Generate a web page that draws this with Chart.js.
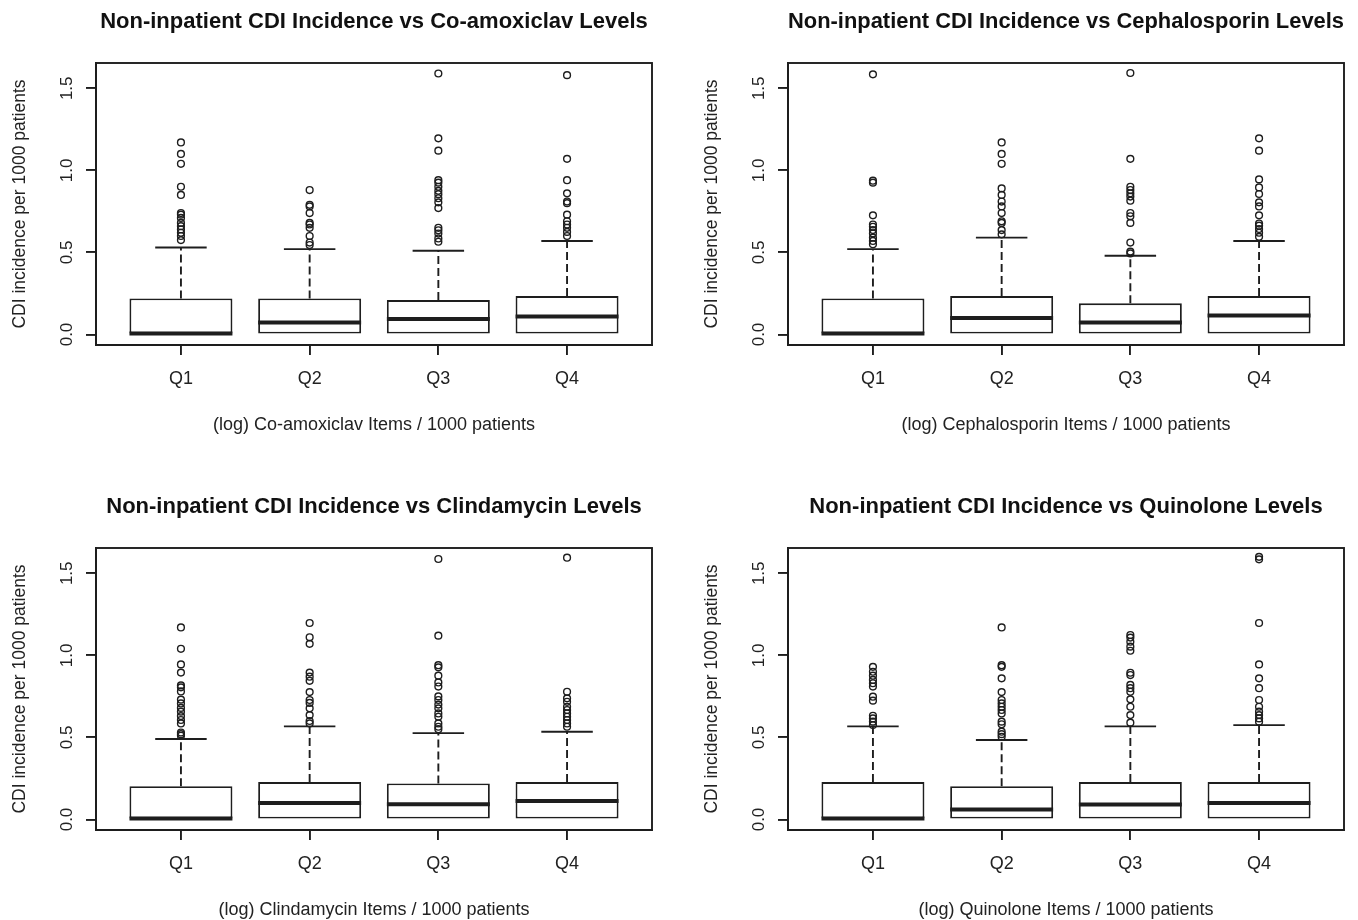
<!DOCTYPE html>
<html>
<head>
<meta charset="utf-8">
<script src="https://cdn.jsdelivr.net/npm/chart.js@4.4.1/dist/chart.umd.min.js"></script>
<style>
  body { margin: 0; background: #fff; width: 1358px; height: 920px; position: relative; overflow: hidden; }
  .panel { position: absolute; width: 666px; height: 460px; }
</style>
</head>
<body>
<div class="panel" style="left:0;top:0"><canvas id="coamox"></canvas></div>
<div class="panel" style="left:692px;top:0"><canvas id="ceph"></canvas></div>
<div class="panel" style="left:0;top:485px"><canvas id="clinda"></canvas></div>
<div class="panel" style="left:692px;top:485px"><canvas id="quino"></canvas></div>
<script>
// categories and axis ticks
const quartiles = ['Q1', 'Q2', 'Q3', 'Q4'];
const yTicks = [0, 0.5, 1.0, 1.5];
const yLabel = 'CDI incidence per 1000 patients';

// Co-amoxiclav
const coamoxLower = [0, 0, 0, 0];
const coamoxUpper = [0.22, 0.22, 0.21, 0.234];
const coamoxMedian = [0, 0.073, 0.095, 0.11];
const coamoxWhisker = [0.53, 0.52, 0.51, 0.57];
const coamoxOutliers = [
    [1.17, 1.10, 1.04, 0.90, 0.85, 0.74, 0.73, 0.71, 0.68, 0.66, 0.64, 0.62, 0.60, 0.575],
    [0.88, 0.79, 0.78, 0.74, 0.68, 0.67, 0.65, 0.60, 0.56, 0.545],
    [1.59, 1.195, 1.12, 0.94, 0.925, 0.90, 0.875, 0.855, 0.83, 0.805, 0.77, 0.65, 0.635, 0.615, 0.585, 0.565],
    [1.58, 1.07, 0.94, 0.86, 0.81, 0.80, 0.73, 0.69, 0.67, 0.65, 0.625, 0.60]
];

// Cephalosporin
const cephLower = [0, 0, 0, 0];
const cephUpper = [0.22, 0.234, 0.19, 0.234];
const cephMedian = [0, 0.10, 0.073, 0.116];
const cephWhisker = [0.52, 0.59, 0.48, 0.57];
const cephOutliers = [
    [1.585, 0.937, 0.925, 0.726, 0.67, 0.656, 0.636, 0.616, 0.59, 0.57, 0.55],
    [1.17, 1.10, 1.04, 0.89, 0.85, 0.81, 0.78, 0.74, 0.69, 0.68, 0.636, 0.61],
    [1.593, 1.07, 0.90, 0.88, 0.86, 0.84, 0.815, 0.74, 0.72, 0.68, 0.56, 0.505, 0.494],
    [1.195, 1.12, 0.945, 0.896, 0.856, 0.805, 0.78, 0.726, 0.676, 0.663, 0.642, 0.62, 0.595]
];

// Clindamycin
const clindaLower = [0, 0, 0, 0];
const clindaUpper = [0.203, 0.228, 0.22, 0.228];
const clindaMedian = [0, 0.10, 0.093, 0.112];
const clindaWhisker = [0.49, 0.567, 0.526, 0.535];
const clindaOutliers = [
    [1.17, 1.04, 0.945, 0.895, 0.817, 0.805, 0.78, 0.73, 0.707, 0.68, 0.657, 0.63, 0.606, 0.585, 0.53, 0.52, 0.51],
    [1.197, 1.11, 1.07, 0.895, 0.87, 0.845, 0.776, 0.728, 0.71, 0.677, 0.636, 0.60, 0.585],
    [1.587, 1.12, 0.94, 0.927, 0.876, 0.835, 0.81, 0.75, 0.728, 0.70, 0.677, 0.646, 0.626, 0.585, 0.565, 0.55],
    [1.595, 0.778, 0.738, 0.717, 0.687, 0.667, 0.646, 0.626, 0.606, 0.585, 0.565]
];

// Quinolone
const quinoLower = [0, 0, 0, 0];
const quinoUpper = [0.228, 0.203, 0.228, 0.228];
const quinoMedian = [0, 0.061, 0.091, 0.10];
const quinoWhisker = [0.567, 0.484, 0.567, 0.575];
const quinoOutliers = [
    [0.93, 0.90, 0.876, 0.85, 0.83, 0.81, 0.748, 0.724, 0.632, 0.616, 0.596, 0.575],
    [1.17, 0.94, 0.93, 0.86, 0.776, 0.728, 0.707, 0.687, 0.667, 0.646, 0.596, 0.58, 0.535, 0.52, 0.504],
    [1.124, 1.108, 1.083, 1.053, 1.028, 0.894, 0.88, 0.82, 0.80, 0.778, 0.732, 0.687, 0.636, 0.59],
    [1.60, 1.585, 1.197, 0.945, 0.86, 0.80, 0.728, 0.687, 0.657, 0.636, 0.616, 0.596]
];

Chart.defaults.font.family = "'Liberation Sans', Arial, sans-serif";
Chart.defaults.color = '#222';

const INK = '#1e1e1e';
const BOX_HALF = 0.4;   // R boxwex 0.8
const CAP_HALF = 0.2;   // staple half width

function makeBoxChart(id, title, xTitle, lower, upper, median, whisker, outliers) {
    // whiskers, caps, medians and the frame round the plot
    const boxExtras = {
        id: 'boxExtras',
        beforeDatasetsDraw(chart) {
            const {ctx, scales: {x, y}} = chart;
            ctx.save();
            ctx.strokeStyle = INK;
            ctx.lineWidth = 1.9;
            upper.forEach((u, i) => {
                const cx = x.getPixelForValue(i + 1);
                const x0 = x.getPixelForValue(i + 1 - CAP_HALF);
                const x1 = x.getPixelForValue(i + 1 + CAP_HALF);
                ctx.setLineDash([8, 4]);
                ctx.beginPath();
                ctx.moveTo(cx, y.getPixelForValue(u));
                ctx.lineTo(cx, y.getPixelForValue(whisker[i]));
                ctx.stroke();
                ctx.setLineDash([]);
                ctx.beginPath();
                ctx.moveTo(x0, y.getPixelForValue(whisker[i]));
                ctx.lineTo(x1, y.getPixelForValue(whisker[i]));
                ctx.stroke();
            });
            ctx.restore();
        },
        afterDatasetsDraw(chart) {
            const {ctx, scales: {x, y}} = chart;
            ctx.save();
            ctx.strokeStyle = INK;
            ctx.lineWidth = 4;
            median.forEach((m, i) => {
                const py = y.getPixelForValue(m) - (m === lower[i] ? 1 : 0);
                ctx.beginPath();
                ctx.moveTo(x.getPixelForValue(i + 1 - BOX_HALF), py);
                ctx.lineTo(x.getPixelForValue(i + 1 + BOX_HALF), py);
                ctx.stroke();
            });
            const a = chart.chartArea;
            ctx.lineWidth = 1.9;
            ctx.strokeRect(a.left, a.top, a.right - a.left, a.bottom - a.top);
            ctx.restore();
        }
    };

    const boxes = quartiles.map((q, i) => ({x: i + 1, y: [lower[i], upper[i]]}));
    const points = [];
    outliers.forEach((list, i) => list.forEach(v => points.push({x: i + 1, y: v})));

    return new Chart(document.getElementById(id), {
        type: 'bar',
        data: {
            datasets: [{
                type: 'bar',
                data: boxes,
                backgroundColor: '#fff',
                borderColor: INK,
                borderWidth: 1.9,
                borderSkipped: false,
                barPercentage: 0.8,
                categoryPercentage: 1
            }, {
                type: 'scatter',
                data: points,
                pointStyle: 'circle',
                pointRadius: 3.4,
                pointBorderWidth: 1.4,
                pointBorderColor: INK,
                pointBackgroundColor: 'rgba(255,255,255,0)'
            }]
        },
        options: {
            responsive: true,
            maintainAspectRatio: false,
            animation: false,
            layout: {padding: {left: 0, right: 14, top: 0, bottom: 0}},
            plugins: {
                legend: {display: false},
                tooltip: {enabled: false},
                title: {
                    display: true,
                    fullSize: false,
                    text: title,
                    font: {size: 22, weight: 'bold'},
                    color: '#111',
                    padding: {top: 9, bottom: 27.6}
                }
            },
            scales: {
                x: {
                    type: 'linear',
                    min: 0.34,
                    max: 4.66,
                    offset: false,
                    afterBuildTicks: s => { s.ticks = quartiles.map((q, i) => ({value: i + 1})); },
                    afterFit: s => { s.height = 115; },
                    ticks: {
                        callback: v => quartiles[v - 1],
                        font: {size: 18},
                        padding: 13,
                        maxRotation: 0
                    },
                    grid: {display: true, offset: false, drawOnChartArea: false, drawTicks: true, tickLength: 10, color: INK, lineWidth: 1.9},
                    border: {display: true, color: INK, width: 1.9},
                    title: {display: true, text: xTitle, font: {size: 18}, padding: {top: 0, bottom: 24}}
                },
                y: {
                    min: -0.064,
                    max: 1.654,
                    afterBuildTicks: s => { s.ticks = yTicks.map(v => ({value: v})); },
                    afterFit: s => { s.width = 96; },
                    ticks: {
                        callback: v => v.toFixed(1),
                        font: {size: 17},
                        minRotation: 90,
                        maxRotation: 90,
                        crossAlign: 'center',
                        padding: 7
                    },
                    grid: {display: true, drawOnChartArea: false, drawTicks: true, tickLength: 10, color: INK, lineWidth: 1.9},
                    border: {display: true, color: INK, width: 1.9},
                    title: {display: true, text: yLabel, font: {size: 17.5}, padding: {top: 9.5, bottom: 0}}
                }
            }
        },
        plugins: [boxExtras]
    });
}

makeBoxChart('coamox', 'Non-inpatient CDI Incidence vs Co-amoxiclav Levels', '(log) Co-amoxiclav Items / 1000 patients',
    coamoxLower, coamoxUpper, coamoxMedian, coamoxWhisker, coamoxOutliers);
makeBoxChart('ceph', 'Non-inpatient CDI Incidence vs Cephalosporin Levels', '(log) Cephalosporin Items / 1000 patients',
    cephLower, cephUpper, cephMedian, cephWhisker, cephOutliers);
makeBoxChart('clinda', 'Non-inpatient CDI Incidence vs Clindamycin Levels', '(log) Clindamycin Items / 1000 patients',
    clindaLower, clindaUpper, clindaMedian, clindaWhisker, clindaOutliers);
makeBoxChart('quino', 'Non-inpatient CDI Incidence vs Quinolone Levels', '(log) Quinolone Items / 1000 patients',
    quinoLower, quinoUpper, quinoMedian, quinoWhisker, quinoOutliers);
</script>
</body>
</html>
